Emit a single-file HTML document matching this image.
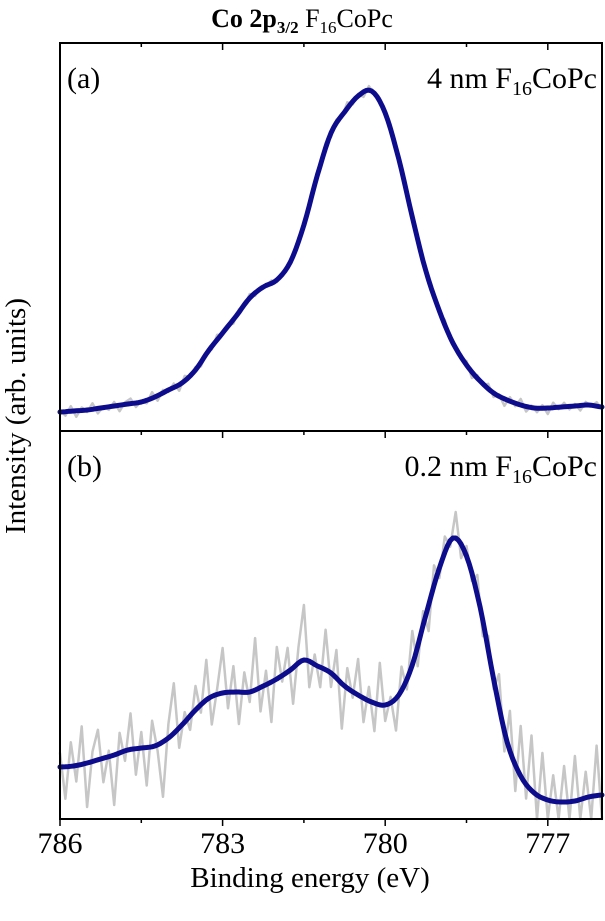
<!DOCTYPE html>
<html><head><meta charset="utf-8">
<style>
html,body{margin:0;padding:0;background:#fff;}
svg{display:block;font-family:"Liberation Serif",serif;}
</style></head>
<body>
<svg id="chart" width="605" height="921" viewBox="0 0 605 921" xmlns="http://www.w3.org/2000/svg">
  <text x="302" y="27" text-anchor="middle" font-size="26"><tspan font-weight="bold">Co 2p</tspan><tspan font-weight="bold" font-size="17" dy="6">3/2</tspan><tspan dy="-6"> F</tspan><tspan font-size="17" dy="6">16</tspan><tspan dy="-6">CoPc</tspan></text>
  <g id="plots"></g>
  <rect x="60" y="43" width="542" height="388" fill="none" stroke="#000" stroke-width="2"/>
  <rect x="60" y="431" width="542" height="388" fill="none" stroke="#000" stroke-width="2"/>
  <g id="ticks"></g>
  <text x="67" y="88" font-size="30">(a)</text>
  <text x="597" y="88" text-anchor="end" font-size="30">4 nm F<tspan font-size="20" dy="7">16</tspan><tspan dy="-7">CoPc</tspan></text>
  <text x="67" y="476" font-size="30">(b)</text>
  <text x="597" y="476" text-anchor="end" font-size="30">0.2 nm F<tspan font-size="20" dy="7">16</tspan><tspan dy="-7">CoPc</tspan></text>
  <text transform="translate(25,416) rotate(-90)" text-anchor="middle" font-size="29">Intensity (arb. units)</text>
  <text x="310" y="887" text-anchor="middle" font-size="29">Binding energy (eV)</text>
</svg>
<script>
// energies: 786 down to 776 in 0.25 eV steps (fit), 0.1 eV steps (raw)
const fitTopA = [19,20,21,23,25,27,29,34,41,48,61,81,98,115,133,144,151,169,206,256,298,319,335,340,318,272,214,160,120,88,66,50,38,31,26,23,23,24,25,26,24];
const fitBottomB = [52,53,56,60,64,69,71,73,81,94,109,121,126,127,127,133,140,149,159,153,146,133,124,117,114,124,154,204,251,281,263,212,140,77,43,26,19,17,18,22,24];
const residA = [2,-4,5,-6,3,-2,6,-5,1,-3,4,-6,2,5,-4,1,-3,6,-5,3,-2,4,-6,5,-1,3,-4,2,-3,5,-2,1,-4,3,-2,4,-3,2,-1,3,-2,1,2,-3,4,-2,1,-3,2,5,-4,3,-2,6,-3,2,-5,4,-1,3,-2,5,-4,2,-3,4,-1,2,-4,3,-2,5,-3,1,-2,4,-6,3,-2,5,-4,2,-7,4,-3,6,-5,2,-4,3,-6,5,-2,4,-3,2,-5,3,-1,4,-2];
const residB = [14,-32,24,-16,38,-44,10,30,-24,6,-50,20,-10,36,-26,16,-38,26,-6,-55,14,50,-20,10,-14,24,-8,40,-28,6,45,-16,26,-32,20,-10,52,-24,14,-40,32,-6,24,-36,16,55,-26,10,-20,40,-14,28,-45,20,-6,36,-24,14,-28,42,-16,6,-32,24,-10,34,-20,14,-26,20,-10,16,-6,26,-14,10,-8,20,-16,14,-10,32,-20,40,-26,50,-14,55,-32,45,-40,26,-50,36,-20,45,-55,26,-40,50,-26];
const xTickMajor = [786,783,780,777];
const xTickMinor = [784.5,781.5,778.5];

const X0=60,X1=602,E0=786,E1=776;
function xScale(e){return X0+(E0-e)/(E0-E1)*(X1-X0);}
const panelBottoms=[431,819];
function yScale(v,p){return panelBottoms[p]-v;}
function fitAt(arr,e){const t=(E0-e)/0.25;const i=Math.min(Math.floor(t),arr.length-2);const f=t-i;
  const p0=arr[Math.max(i-1,0)],p1=arr[i],p2=arr[i+1],p3=arr[Math.min(i+2,arr.length-1)];
  return 0.5*((2*p1)+(-p0+p2)*f+(2*p0-5*p1+4*p2-p3)*f*f+(-p0+3*p1-3*p2+p3)*f*f*f);}
const NS="http://www.w3.org/2000/svg";
const plots=document.getElementById('plots');
function addPath(d,stroke,w,name){const el=document.createElementNS(NS,'path');
  el.setAttribute('d',d);el.setAttribute('fill','none');el.setAttribute('stroke',stroke);
  el.setAttribute('stroke-width',w);el.setAttribute('stroke-linejoin','round');el.setAttribute('stroke-linecap','round');
  
  
  plots.appendChild(el);}
const fits=[fitTopA,fitBottomB],res=[residA,residB];
for(let p=0;p<2;p++){
  let d='';for(let i=0;i<res[p].length;i++){const e=E0-i*0.1;const v=fitAt(fits[p],e)+res[p][i];
    const y=Math.min(Math.max(yScale(v,p),panelBottoms[p]-387),panelBottoms[p]);
    d+=(i?'L':'M')+xScale(e).toFixed(1)+' '+y.toFixed(1);}
  addPath(d,'#c6c6c6',2.5,p?'raw-data-b':'raw-data-a');
  let f='';for(let i=0;i<=200;i++){const e=E0-i*0.05;f+=(i?'L':'M')+xScale(e).toFixed(1)+' '+yScale(fitAt(fits[p],e),p).toFixed(1);}
  addPath(f,'#0c0c8c',5,p?'fit-curve-b':'fit-curve-a');
}
const tg=document.getElementById('ticks');
function tick(x,y1,y2,name){const l=document.createElementNS(NS,'line');
  l.setAttribute('x1',x);l.setAttribute('x2',x);l.setAttribute('y1',y1);l.setAttribute('y2',y2);
  l.setAttribute('stroke','#000');l.setAttribute('stroke-width',1.5);
  
  
  tg.appendChild(l);}
xTickMajor.forEach(e=>{const x=xScale(e);tick(x,43,50,'top-tick');tick(x,431,438,'mid-tick');tick(x,819,826,'bottom-tick');
  const t=document.createElementNS(NS,'text');t.setAttribute('x',x);t.setAttribute('y',853);
  t.setAttribute('text-anchor','middle');t.setAttribute('font-size','30');t.textContent=e;
  
  
  tg.appendChild(t);});
xTickMinor.forEach(e=>{const x=xScale(e);tick(x,43,47,'top-minor-tick');tick(x,431,435,'mid-minor-tick');tick(x,819,823,'bottom-minor-tick');});
</script>
</body></html>
